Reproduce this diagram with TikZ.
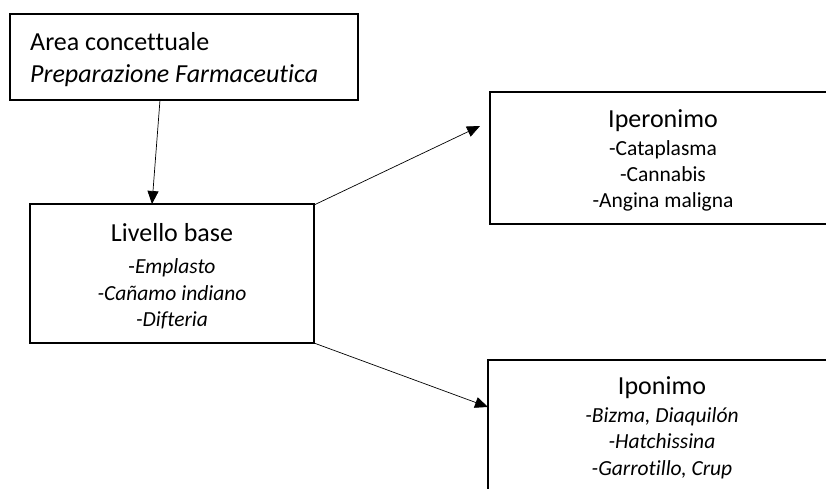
\documentclass[tikz,border=0pt]{standalone}
\usepackage{fontspec}
\setmainfont{Carlito}[Ligatures={NoCommon}]
\usetikzlibrary{arrows.meta}
\begin{document}
\begin{tikzpicture}[x=1pt,y=-1pt,
  box/.style={draw=black,line width=2pt,fill=none,inner sep=0pt,outer sep=0pt},
  conn/.style={draw=black,line width=0.7pt,-{Triangle[length=13pt,width=11pt]}},
  big/.style={font=\fontsize{26}{31}\selectfont,inner sep=0pt,anchor=base},
  head/.style={font=\fontsize{26}{31}\selectfont,inner sep=0pt,anchor=base},
  item/.style={font=\fontsize{21.5}{26}\selectfont,inner sep=0pt,anchor=base}]
\useasboundingbox (0,0) rectangle (826,488);
\clip (0,0) rectangle (826,488);
% boxes
\path[box] (10,14) rectangle (358,100);
\coordinate (b1bot) at (160,100);
\path[box] (30,204) rectangle (314,343);
\coordinate (b2top) at (152,204);
\coordinate (b2tr) at (314,205);
\coordinate (b2br) at (314,343);
\path[box] (490,92) rectangle (850,224);
\coordinate (b3tip) at (480,126);
\path[box] (488,360) rectangle (850,520);
\coordinate (b4tip) at (488,407);
% texts
\node[big,anchor=base west] (t1) at (30,50) {Area concettuale};
\node[big,anchor=base west] (t2) at (30,82) {\itshape Preparazione Farmaceutica};
\node[head] (h2) at (172,241) {Livello base};
\node[item] (i21) at (172,273) {-\textit{Emplasto}};
\node[item] (i22) at (172,300) {\itshape -Cañamo indiano};
\node[item] (i23) at (172,326) {\itshape -Difteria};
\node[head] (h3) at (663,127) {Iperonimo};
\node[item] (i31) at (663,155) {-Cataplasma};
\node[item] (i32) at (663,181) {-Cannabis};
\node[item] (i33) at (663,207) {-Angina maligna};
\node[head] (h4) at (662,394) {Iponimo};
\node[item] (i41) at (662,422) {\itshape -Bizma, Diaquilón};
\node[item] (i42) at (662,448) {\itshape -Hatchissina};
\node[item] (i43) at (662,475) {\itshape -Garrotillo, Crup};
% connectors
\draw[conn] (b1bot) -- (b2top);
\draw[conn] (b2tr) -- (b3tip);
\draw[conn] (b2br) -- (b4tip);
\end{tikzpicture}
\end{document}
